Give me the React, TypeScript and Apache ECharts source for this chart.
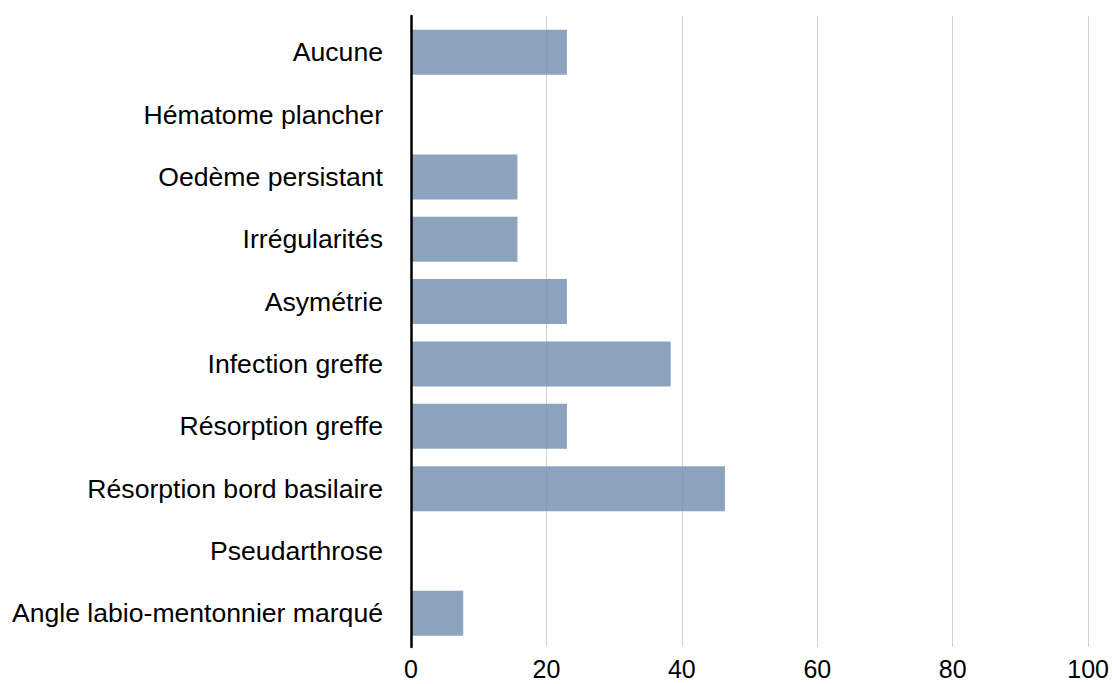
import React, { useEffect, useRef } from "react";
import * as echarts from "echarts";

const categories = [
  "Aucune",
  "Hématome plancher",
  "Oedème persistant",
  "Irrégularités",
  "Asymétrie",
  "Infection greffe",
  "Résorption greffe",
  "Résorption bord basilaire",
  "Pseudarthrose",
  "Angle labio-mentonnier marqué",
];
const values = [23.0, 0, 15.7, 15.7, 23.0, 38.3, 23.0, 46.3, 0, 7.7];
const xTicks = { min: 0, max: 100, interval: 20 };

const FONT = 'Helvetica, "Liberation Sans", Arial, sans-serif';

export default function App() {
  const ref = useRef<HTMLDivElement>(null);
  useEffect(() => {
    if (!ref.current) return;
    const chart = echarts.init(ref.current, null, { renderer: "svg" });
    chart.setOption({
      animation: false,
      textStyle: { fontFamily: FONT },
      grid: [
        { left: 411, right: 23, top: 16, bottom: 37 },
        { left: 411, right: 23, top: 21, bottom: 39.5 },
      ],
      xAxis: [
        {
          gridIndex: 0,
          type: "value",
          min: xTicks.min,
          max: xTicks.max,
          interval: xTicks.interval,
          axisLine: { show: false },
          axisTick: { show: false },
          splitLine: { show: true, lineStyle: { color: "#d2d2d2", width: 1 } },
          axisLabel: { fontSize: 25, lineHeight: 25, color: "#000", margin: 9, fontFamily: FONT },
        },
        {
          gridIndex: 1,
          type: "value",
          min: xTicks.min,
          max: xTicks.max,
          show: false,
        },
      ],
      yAxis: [
        {
          gridIndex: 0,
          type: "category",
          data: categories,
          inverse: true,
          z: 10,
          axisLine: { show: true, lineStyle: { color: "#000", width: 2.5 } },
          axisTick: { show: false },
          axisLabel: { show: false },
          splitLine: { show: false },
        },
        {
          gridIndex: 1,
          type: "category",
          data: categories,
          inverse: true,
          axisLine: { show: false },
          axisTick: { show: false },
          splitLine: { show: false },
          axisLabel: { fontSize: 26.6, color: "#000", margin: 28, fontFamily: FONT },
        },
      ],
      series: [
        {
          type: "bar",
          xAxisIndex: 1,
          yAxisIndex: 1,
          data: values,
          barWidth: 45,
          itemStyle: { color: "rgb(120,147,177)", opacity: 0.85 },
        },
      ],
    });
    return () => chart.dispose();
  }, []);
  return <div ref={ref} style={{ width: 1112, height: 684, position: "absolute", left: 0, top: 0 }} />;
}
